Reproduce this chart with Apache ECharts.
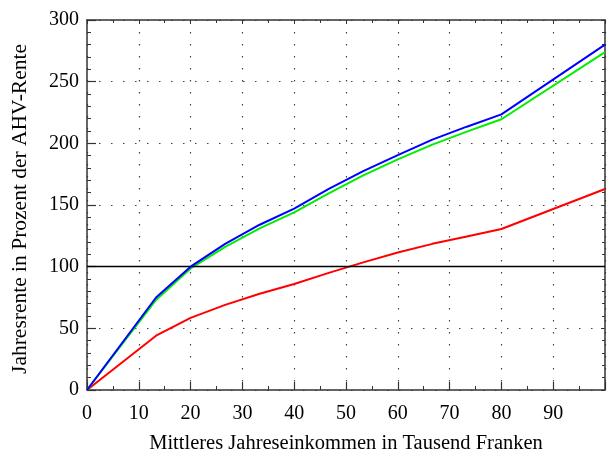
<!DOCTYPE html>
<html>
<head>
<meta charset="utf-8">
<script src="https://cdn.jsdelivr.net/npm/echarts@6/dist/echarts.min.js"></script>
<style>html,body{margin:0;padding:0;background:#fff}#c{width:607px;height:453px}</style>
</head>
<body>
<div id="c"></div>
<script>
var income = [0, 13.33, 20, 26.67, 33.33, 40, 46.67, 53.33, 60, 66.67, 73.33, 80, 100];
var blueValues = [0, 75, 100, 118.5, 134, 147, 163, 177.5, 190.5, 203, 213.5, 223.5, 280];
var greenValues = [0, 73, 98.5, 116, 131, 144, 159.5, 174, 187, 199, 209.5, 219.5, 274];
var redValues = [0, 44, 58.5, 69, 78, 86, 95, 103.5, 111.5, 118.5, 124.5, 130.5, 163];
var xTicks = [0, 10, 20, 30, 40, 50, 60, 70, 80, 90];
var yTicks = [0, 50, 100, 150, 200, 250, 300];
var xTitle = 'Mittleres Jahreseinkommen in Tausend Franken';
var yTitle = 'Jahresrente in Prozent der AHV-Rente';
var refLevel = 100;

function pairs(xs, ys) { return xs.map(function (x, i) { return [x, ys[i]]; }); }

var font = '"Liberation Serif", "DejaVu Serif", serif';
var axisCol = '#333';
var chart = echarts.init(document.getElementById('c'), null, {renderer: 'canvas'});
var dotted = {show: true, lineStyle: {color: '#444', width: 1.2, type: [1.5, 10.5]}};

chart.setOption({
  animation: false,
  grid: {left: 87, right: 2, top: 20, bottom: 63, containLabel: false, outerBoundsMode: 'none'},
  xAxis: [{
    type: 'value', min: 0, max: 100, interval: 10,
    name: xTitle, nameLocation: 'middle', nameGap: 43,
    nameTextStyle: {fontFamily: font, fontSize: 20.5, color: '#000'},
    axisLine: {show: true, onZero: false, lineStyle: {color: axisCol, width: 1.5}},
    axisTick: {show: true, inside: true, length: 8, lineStyle: {color: axisCol, width: 1.2}},
    minorTick: {show: true, splitNumber: 2, length: 4, lineStyle: {color: axisCol, width: 1}},
    axisLabel: {fontFamily: font, fontSize: 20, color: '#000', margin: 14, showMaxLabel: false,
      formatter: function (v) { return xTicks.indexOf(v) >= 0 ? String(v) : ''; }},
    splitLine: dotted
  }, {
    type: 'value', min: 0, max: 100, interval: 10, position: 'top',
    axisLine: {show: true, onZero: false, lineStyle: {color: axisCol, width: 1.5}},
    axisTick: {show: true, inside: true, length: 4, lineStyle: {color: axisCol, width: 1}},
    minorTick: {show: true, splitNumber: 2, length: 3, lineStyle: {color: axisCol, width: 1}},
    axisLabel: {show: false}, splitLine: {show: false}
  }],
  yAxis: [{
    type: 'value', min: 0, max: 300, interval: 50,
    name: yTitle, nameLocation: 'middle', nameGap: 56, nameRotate: 90,
    nameTextStyle: {fontFamily: font, fontSize: 21.5, color: '#000', padding: [0, 8, 0, 0]},
    axisLine: {show: true, onZero: false, lineStyle: {color: axisCol, width: 1.5}},
    axisTick: {show: true, inside: true, length: 9, lineStyle: {color: axisCol, width: 1.2}},
    minorTick: {show: true, splitNumber: 5, length: 4, lineStyle: {color: axisCol, width: 1}},
    axisLabel: {fontFamily: font, fontSize: 20, color: '#000', margin: 8,
      formatter: function (v) { return yTicks.indexOf(v) >= 0 ? String(v) : ''; }},
    splitLine: {show: true, lineStyle: {color: '#444', width: 1.2, type: [1.5, 10.5]}}
  }, {
    type: 'value', min: 0, max: 300, interval: 50, position: 'right',
    axisLine: {show: true, onZero: false, lineStyle: {color: axisCol, width: 1.5}},
    axisTick: {show: true, inside: true, length: 4, lineStyle: {color: axisCol, width: 1}},
    minorTick: {show: true, splitNumber: 5, length: 3, lineStyle: {color: axisCol, width: 1}},
    axisLabel: {show: false}, splitLine: {show: false}
  }],
  series: [{
    type: 'line', data: pairs(income, redValues), showSymbol: false,
    lineStyle: {color: '#ff0000', width: 2}, z: 3,
    markLine: {silent: true, symbol: 'none', label: {show: false},
      lineStyle: {color: '#000', width: 1.3, type: 'solid'},
      data: [{yAxis: refLevel}]}
  }, {
    type: 'line', data: pairs(income, greenValues), showSymbol: false,
    lineStyle: {color: '#00ee00', width: 2}, z: 4
  }, {
    type: 'line', data: pairs(income, blueValues), showSymbol: false,
    lineStyle: {color: '#0000ff', width: 2}, z: 5
  }]
});
</script>
</body>
</html>
